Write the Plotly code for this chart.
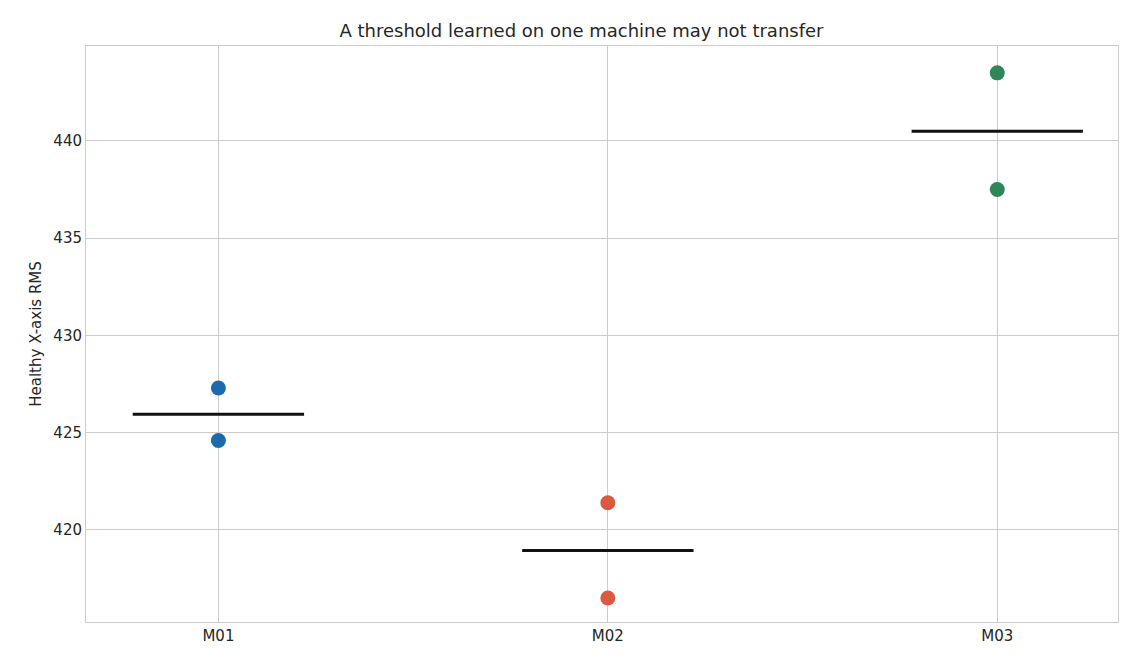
import plotly.graph_objects as go

machines = ["M01", "M02", "M03"]
values = [[427.3, 424.6], [421.4, 416.5], [443.5, 437.5]]
colors = ["#1b6aad", "#d95a41", "#2e8659"]

fig = go.Figure()
for i, (m, vals, c) in enumerate(zip(machines, values, colors)):
    fig.add_trace(go.Scatter(x=[i] * len(vals), y=vals, mode="markers",
                             marker=dict(color=c, size=15), showlegend=False))
    mean = sum(vals) / len(vals)
    fig.add_trace(go.Scatter(x=[i - 0.22, i + 0.22], y=[mean, mean], mode="lines",
                             line=dict(color="#111111", width=3), showlegend=False))

fig.update_layout(
    width=1147, height=665, plot_bgcolor="white", paper_bgcolor="white",
    margin=dict(l=78, r=37, t=38, b=51),
    font=dict(family="DejaVu Sans", size=15, color="#262626"),
    title=dict(text="A threshold learned on one machine may not transfer", x=0.5, xanchor="center",
               y=0.975, font=dict(size=18)),
)
fig.update_xaxes(range=[-0.34, 2.31], tickvals=[0, 1, 2], ticktext=machines,
                 showgrid=True, gridcolor="#cccccc", showline=True, linecolor="#cccccc",
                 mirror=True, zeroline=False)
fig.update_yaxes(range=[415.27, 444.88], dtick=5, title_text="Healthy X-axis RMS",
                 title_font=dict(size=15), title_standoff=8,
                 showgrid=True, gridcolor="#cccccc", showline=True, linecolor="#cccccc",
                 mirror=True, zeroline=False)
fig.write_html("out.html")
